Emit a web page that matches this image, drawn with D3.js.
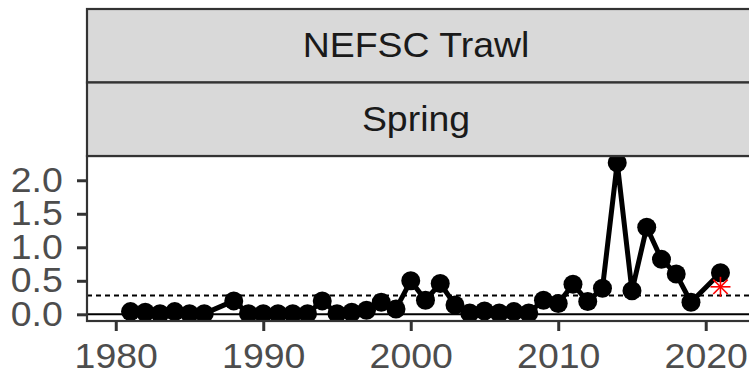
<!DOCTYPE html>
<html>
<head>
<meta charset="utf-8">
<script src="https://cdn.jsdelivr.net/npm/d3@7"></script>
<style>
  html, body { margin: 0; padding: 0; background: #ffffff; }
  svg { display: block; font-family: "Liberation Sans", Arial, Helvetica, sans-serif; }
</style>
</head>
<body>
<svg id="chart" width="749" height="375"></svg>
<script>
// Survey index by year (1987 and 2020 have no survey value)
const years  = [1981, 1982, 1983, 1984, 1985, 1986, 1988, 1989, 1990, 1991,
                1992, 1993, 1994, 1995, 1996, 1997, 1998, 1999, 2000, 2001,
                2002, 2003, 2004, 2005, 2006, 2007, 2008, 2009, 2010, 2011,
                2012, 2013, 2014, 2015, 2016, 2017, 2018, 2019, 2021];
const values = [0.04, 0.03, 0.01, 0.04, 0.01, 0.01, 0.20, 0.01, 0.01, 0.01,
                0.01, 0.01, 0.20, 0.01, 0.03, 0.06, 0.18, 0.08, 0.50, 0.21,
                0.46, 0.14, 0.02, 0.05, 0.02, 0.04, 0.02, 0.21, 0.16, 0.45,
                0.19, 0.39, 2.26, 0.35, 1.30, 0.82, 0.60, 0.18, 0.62];

// Reference level (dashed) and the highlighted recent estimate (red asterisk)
const referenceLevel = [0.28];
const highlightYear  = [2021];
const highlightValue = [0.41];

// Facet strip labels and axis ticks
const stripLabels = ["NEFSC Trawl", "Spring"];
const xTicks = [1980, 1990, 2000, 2010, 2020];
const yTicks = [0.0, 0.5, 1.0, 1.5, 2.0];

const svg = d3.select("#chart");

const panel = { left: 87, right: 751, top: 156, bottom: 321 };
const stripTop = 9, stripH = 73.5;
const fontSize = 35;
const stretch = 1.07;   // slightly wide lettering

const x = d3.scaleLinear().domain([1978.05, 2023.07]).range([panel.left, panel.right]);
const y = d3.scaleLinear().domain([-0.1, 2.362]).range([panel.bottom, panel.top]);

const series = years.map((yr, i) => ({ year: yr, value: values[i] }));

// Panel background
svg.append("rect")
  .attr("x", panel.left).attr("y", panel.top)
  .attr("width", panel.right - panel.left).attr("height", panel.bottom - panel.top)
  .attr("fill", "#ffffff");

// Clip marks to the panel
svg.append("defs").append("clipPath").attr("id", "panel-clip")
  .append("rect")
  .attr("x", panel.left).attr("y", panel.top)
  .attr("width", panel.right - panel.left).attr("height", panel.bottom - panel.top);

const plot = svg.append("g").attr("clip-path", "url(#panel-clip)");

// Zero line
plot.append("line")
  .attr("x1", panel.left).attr("x2", panel.right)
  .attr("y1", y(0)).attr("y2", y(0))
  .attr("stroke", "#000").attr("stroke-width", 2);

// Reference level
plot.selectAll("line.ref").data(referenceLevel).join("line")
  .attr("class", "ref")
  .attr("x1", panel.left).attr("x2", panel.right)
  .attr("y1", d => y(d)).attr("y2", d => y(d))
  .attr("stroke", "#000").attr("stroke-width", 2)
  .attr("stroke-dasharray", "5,4");

// Series line and points
plot.append("path")
  .datum(series)
  .attr("fill", "none")
  .attr("stroke", "#000")
  .attr("stroke-width", 5)
  .attr("stroke-linejoin", "round")
  .attr("d", d3.line().x(d => x(d.year)).y(d => y(d.value)));

plot.selectAll("circle.pt").data(series).join("circle")
  .attr("class", "pt")
  .attr("cx", d => x(d.year)).attr("cy", d => y(d.value))
  .attr("r", 9.5)
  .attr("fill", "#000");

// Red asterisk (plus + cross)
const star = plot.selectAll("g.star").data(highlightYear.map((yr, i) => ({ year: yr, value: highlightValue[i] })))
  .join("g").attr("class", "star")
  .attr("transform", d => `translate(${x(d.year)},${y(d.value)})`);
const sr = 10;
const spokes = [[0, -sr, 0, sr], [-sr, 0, sr, 0],
                [-sr * 0.72, -sr * 0.72, sr * 0.72, sr * 0.72],
                [-sr * 0.72, sr * 0.72, sr * 0.72, -sr * 0.72]];
spokes.forEach(s => {
  star.append("line")
    .attr("x1", s[0]).attr("y1", s[1]).attr("x2", s[2]).attr("y2", s[3])
    .attr("stroke", "#ff0000").attr("stroke-width", 1.6);
});

// Panel border
svg.append("rect")
  .attr("x", panel.left).attr("y", panel.top)
  .attr("width", panel.right - panel.left).attr("height", panel.bottom - panel.top)
  .attr("fill", "none").attr("stroke", "#333333").attr("stroke-width", 2.2);

// Facet strips
stripLabels.forEach((lab, i) => {
  const top = stripTop + i * stripH;
  svg.append("rect")
    .attr("x", panel.left).attr("y", top)
    .attr("width", panel.right - panel.left).attr("height", stripH)
    .attr("fill", "#d9d9d9").attr("stroke", "#333333").attr("stroke-width", 2.2);
  svg.append("text")
    .attr("transform", `translate(416,${top + stripH / 2 - 1}) scale(${stretch},1)`)
    .attr("dy", "0.36em")
    .attr("text-anchor", "middle")
    .attr("fill", "#1a1a1a")
    .attr("font-size", fontSize)
    .text(lab);
});

// Axes
const xAxis = d3.axisBottom(x).tickValues(xTicks).tickFormat(d3.format("d"))
  .tickSize(10).tickPadding(12);
const gx = svg.append("g").attr("transform", `translate(0,${panel.bottom})`).call(xAxis);
gx.select(".domain").remove();
gx.selectAll(".tick line").attr("stroke", "#333333").attr("stroke-width", 3);
gx.selectAll(".tick text").attr("fill", "#4d4d4d").attr("font-size", fontSize)
  .attr("font-family", "Liberation Sans, Arial, sans-serif")
  .attr("transform", `scale(${stretch},1)`);

const yAxis = d3.axisLeft(y).tickValues(yTicks).tickFormat(d3.format(".1f"))
  .tickSize(10).tickPadding(13);
const gy = svg.append("g").attr("transform", `translate(${panel.left},0)`).call(yAxis);
gy.select(".domain").remove();
gy.selectAll(".tick line").attr("stroke", "#333333").attr("stroke-width", 3);
gy.selectAll(".tick text").attr("fill", "#4d4d4d").attr("font-size", fontSize)
  .attr("font-family", "Liberation Sans, Arial, sans-serif")
  .attr("x", -24.3 / stretch)
  .attr("transform", `scale(${stretch},1)`);
</script>
</body>
</html>
